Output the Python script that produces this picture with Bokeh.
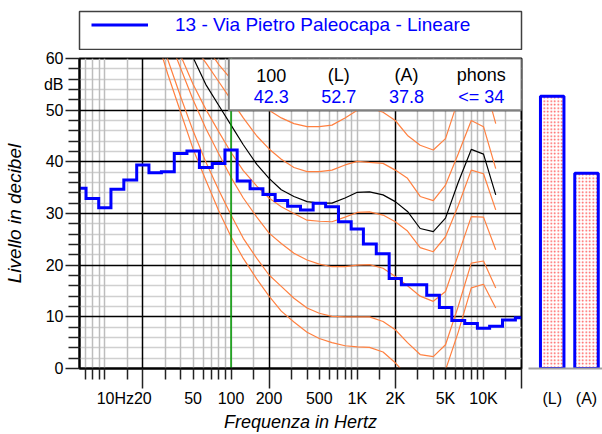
import math
from bokeh.plotting import figure
from bokeh.layouts import row, column
from bokeh.models import (Range1d, FixedTicker, Label, BoxAnnotation, Legend,
                          LegendItem, Grid, LogAxis, LinearAxis)
from bokeh.embed import file_html
from bokeh.resources import INLINE

FONT = "Liberation Sans"

# ---------------- data ----------------
series_name = "13 - Via Pietro Paleocapa - Lineare"

# 1/3-octave band centre frequencies (Hz) and measured levels (dB)
band_freqs = [6.3, 8, 10, 12.5, 16, 20, 25, 31.5, 40, 50, 63, 80, 100, 125, 160,
              200, 250, 315, 400, 500, 630, 800, 1000, 1250, 1600, 2000, 2500,
              3150, 4000, 5000, 6300, 8000, 10000, 12500, 16000, 20000]
band_levels = [34.9, 32.9, 31.1, 34.7, 36.5, 39.4, 37.9, 38.1, 41.6, 42.1, 38.9,
               39.7, 42.3, 36.3, 34.8, 33.7, 32.5, 31.4, 30.7, 32.0, 31.3, 28.4,
               27.0, 24.1, 22.2, 17.4, 16.2, 16.2, 14.2, 11.8, 9.3, 8.7, 7.8, 8.2,
               9.4, 9.8]

# equal-loudness contours (dB) at these frequencies
iso_freqs = [20, 25, 31.5, 40, 50, 63, 80, 100, 125, 160, 200, 250, 315, 400, 500,
             630, 800, 1000, 1250, 1600, 2000, 2500, 3150, 4000, 5000, 6300, 8000,
             10000, 12500]
contour_thr = [74, 65, 57, 49.5, 42.5, 36.5, 30.5, 25.5, 21.3, 17.3, 14.0, 11.1, 9.0,
               7.0, 5.8, 5.0, 4.4, 4.2, 4.1, 3.2, 1.1, -1.5, -3.5, -4.0, -0.3, 7.0,
               15.6, 16.3, 11.7]
contour_10 = [78, 68.5, 59.8, 52.5, 46, 40, 34.5, 29.7, 25.2, 21.3, 18.1, 15.9, 13.6,
              11.7, 10.7, 10.1, 10.0, 10.0, 10.0, 9.1, 7.5, 5.0, 2.7, 2.3, 4.6, 12.0,
              20.4, 20.8, 15.6]
contour_20 = [80, 71.5, 64.5, 58, 52, 46.5, 41.5, 37, 33, 29.3, 26.2, 24.2, 22.3,
              21.0, 20.2, 19.7, 19.7, 20.0, 20.1, 19.4, 17.8, 16.0, 14.0, 13.0, 14.9,
              22.0, 29.4, 29.3, 23.0]
contour_30 = [82, 73, 66, 60.5, 55, 50.2, 45.8, 41.8, 38.3, 35.3, 33.0, 31.3, 30.0,
              28.7, 28.5, 28.4, 29.3, 30.2, 30.3, 29.7, 28.4, 26.6, 23.4, 22.6, 25.5,
              31.5, 38.4, 37.7, 30.7]
contour_40 = [86, 79, 72.5, 67, 62.5, 59.2, 55.5, 52.0, 48.5, 45.0, 42.5, 40.5, 38.9,
              38.1, 38.1, 38.4, 39.4, 40.1, 39.9, 39.7, 38.4, 36.8, 33.3, 32.5, 35.5,
              41.5, 48.0, 46.8, 38.7]
contour_50 = [90, 83.5, 77.5, 72, 67.5, 62.5, 58.8, 56.0, 53.5, 51.5, 50.0, 48.5, 47.4,
              46.8, 46.8, 47.1, 48.5, 50.0, 50.5, 49.6, 48.0, 45.1, 43.2, 42.3, 44.5,
              52.0, 58.0, 56.0, 47.4]
contour_phon = [83, 77, 71, 65.5, 60.2, 55, 50.9, 47.1, 43.3, 39.5, 36.8, 34.6, 33.3,
                32.3, 32.0, 32.0, 33.0, 34.1, 34.2, 33.6, 32.3, 30.4, 27.1, 26.5, 29.1,
                36.0, 42.4, 41.5, 33.6]
phon_level = 34
highlight_freq = 100

overall_labels = ["(L)", "(A)"]
overall_values = [52.7, 37.8]

# axis ticks / labels
x_major_ticks = [20, 200, 2000, 20000]
x_minor_ticks = [7, 8, 9, 10, 15, 30, 40, 50, 60, 70, 80, 90, 100, 150,
                 300, 400, 500, 600, 700, 800, 900, 1000, 1500,
                 3000, 4000, 5000, 6000, 7000, 8000, 9000, 10000, 15000]
x_label_pos = [10, 20, 50, 100, 200, 500, 1000, 2000, 5000, 10000]
x_labels = ["10Hz", "20", "50", "100", "200", "500", "1K", "2K", "5K", "10K"]
y_major_ticks = [0, 10, 20, 30, 40, 50, 60]
y_minor_ticks = [2, 4, 6, 8, 12, 14, 16, 18, 22, 24, 26, 28, 32, 34, 36, 38,
                 42, 44, 46, 48, 52, 54, 56, 58]
y_unit_label = "dB"
y_unit_pos = 55

# ---------------- layout constants ----------------
FRAME_W, FRAME_H = 442, 311
LEFT, TOP, BOTTOM = 79, 8, 65
LEG_H = 50
XR = Range1d(6.3, 20000)
YR = Range1d(0, 60)
px_per_decade = FRAME_W / math.log10(XR.end / XR.start)

# "10Hz" is drawn with its number centred on the tick, so shift the text anchor
label_ticks = list(x_label_pos)
label_ticks[0] = x_label_pos[0] * 10 ** (10.5 / px_per_decade)

# ---------------- legend strip (its frame is the legend box) ----------------
leg_fig = figure(width=602, height=LEG_H, x_range=Range1d(0, 1), y_range=Range1d(0, 1),
                 output_backend="svg", toolbar_location=None,
                 x_axis_location=None, y_axis_location=None,
                 min_border_left=LEFT, min_border_right=602 - LEFT - FRAME_W,
                 min_border_top=11, min_border_bottom=1)
leg_fig.outline_line_color = "#404040"
leg_fig.outline_line_width = 1.5
leg_fig.xgrid.visible = False
leg_fig.ygrid.visible = False
leg_fig.background_fill_color = "white"
leg_fig.border_fill_color = "white"
leg_glyph = leg_fig.line(band_freqs[:1], band_levels[:1], line_color="#0000ff",
                         line_width=3)
legend = Legend(items=[LegendItem(label=series_name, renderers=[leg_glyph])],
                location=(12, 13), orientation="vertical",
                glyph_width=57, glyph_height=23, label_height=23, label_width=300,
                label_standoff=27, padding=0, margin=0, spacing=0,
                border_line_color=None, background_fill_alpha=0.0,
                label_text_font=FONT, label_text_font_size="19px",
                label_text_color="#0000ff")
leg_fig.add_layout(legend)

# ---------------- main figure ----------------
p1 = figure(width=LEFT + FRAME_W + 7, height=TOP + FRAME_H + BOTTOM,
            x_axis_type="log", x_range=XR, y_range=YR,
            output_backend="svg", toolbar_location=None,
            min_border_left=LEFT, min_border_right=7, min_border_top=TOP,
            min_border_bottom=BOTTOM)
p1.background_fill_color = "white"
p1.border_fill_color = "white"
p1.outline_line_color = "black"
p1.outline_line_width = 2


def style_axis(ax):
    ax.major_label_text_font = FONT
    ax.major_label_text_font_size = "16px"
    ax.major_label_text_color = "black"
    ax.axis_label_text_font = FONT
    ax.axis_label_text_font_style = "italic"
    ax.axis_label_text_color = "black"
    ax.major_tick_in = 0
    ax.minor_tick_in = 0


def tick_only_axis(ax, ticks, major_out, minor_out):
    style_axis(ax)
    ax.axis_line_color = "black"
    ax.axis_line_width = 2
    ax.major_tick_out = major_out
    ax.minor_tick_out = minor_out
    ax.major_tick_line_color = "#222222"
    ax.minor_tick_line_color = "#222222"
    ax.major_tick_line_width = 1.5
    ax.minor_tick_line_width = 1.5
    ax.major_label_overrides = {t: "" for t in ticks}
    ax.major_label_text_font_size = "1px"
    ax.major_label_standoff = 0
    ax.axis_label_standoff = 0


def label_only_axis(ax):
    style_axis(ax)
    ax.axis_line_color = None
    ax.major_tick_line_color = None
    ax.minor_tick_line_color = None
    ax.major_tick_out = 0
    ax.minor_tick_out = 0


# x axis: tick marks (long at 20/200/2K/20K) + separate label row
xa1 = p1.xaxis[0]
xa1.ticker = FixedTicker(ticks=x_major_ticks, minor_ticks=x_minor_ticks)
tick_only_axis(xa1, x_major_ticks, 20, 11)

xa2 = LogAxis(ticker=FixedTicker(ticks=label_ticks, minor_ticks=[]),
              major_label_overrides={t: l for t, l in zip(label_ticks, x_labels)},
              axis_label="Frequenza in Hertz")
label_only_axis(xa2)
xa2.major_label_standoff = 1
xa2.axis_label_standoff = 2
xa2.axis_label_text_font_size = "18px"
p1.add_layout(xa2, "below")

# y axis: tick marks + label column (with the "dB" unit)
ya1 = p1.yaxis[0]
ya1.ticker = FixedTicker(ticks=y_major_ticks, minor_ticks=y_minor_ticks)
tick_only_axis(ya1, y_major_ticks, 14, 11)

y_label_ticks = y_major_ticks + [y_unit_pos]
y_label_over = {t: str(t) for t in y_major_ticks}
y_label_over[y_unit_pos] = y_unit_label
ya2 = LinearAxis(ticker=FixedTicker(ticks=y_label_ticks, minor_ticks=[]),
                 major_label_overrides=y_label_over,
                 axis_label="Livello in decibel")
label_only_axis(ya2)
ya2.major_label_standoff = 2
ya2.axis_label_standoff = 16
ya2.axis_label_text_font_size = "19px"
p1.add_layout(ya2, "left")

# grids: minor (grey) underneath, major (black) on top
xg = p1.xgrid[0]
yg = p1.ygrid[0]
for g in (xg, yg):
    g.grid_line_color = "black"
    g.grid_line_width = 1.5
    g.minor_grid_line_color = None
gx_minor = Grid(dimension=0, ticker=FixedTicker(ticks=x_minor_ticks),
                grid_line_color="#bdbdbd", grid_line_width=1.5)
gy_minor = Grid(dimension=1, ticker=FixedTicker(ticks=y_minor_ticks),
                grid_line_color="#d0d0d0", grid_line_width=1.5)
p1.center = [gy_minor, gx_minor] + [c for c in p1.center]

# equal-loudness contours
for contour in (contour_thr, contour_10, contour_20, contour_30, contour_40, contour_50):
    p1.line(iso_freqs, contour, line_color="#ff8040", line_width=1.2)
p1.line(iso_freqs, contour_phon, line_color="black", line_width=1.2)

# highlighted band marker
p1.line([highlight_freq, highlight_freq], [YR.start, YR.end],
        line_color="#009900", line_width=1.5)

# measured spectrum
step_r = p1.step(band_freqs, band_levels, mode="center", line_color="#0000ff",
                 line_width=3, line_join="miter")

# inset results box
box = BoxAnnotation(left=96, right=XR.end, bottom=50, top=YR.end,
                    fill_color="white", fill_alpha=1.0,
                    line_color="#808080", line_alpha=1.0, line_width=2)
p1.add_layout(box)

inset_headers = [str(highlight_freq), overall_labels[0], overall_labels[1], "phons"]
inset_values = [f"{band_levels[band_freqs.index(highlight_freq)]:.1f}",
                f"{overall_values[0]:.1f}", f"{overall_values[1]:.1f}",
                f"<= {phon_level}"]
inset_x = [208, 714, 2457, 9600]
for xh, head, val in zip(inset_x, inset_headers, inset_values):
    p1.add_layout(Label(x=xh, y=56.8, text=head, text_align="center",
                        text_baseline="middle", text_font=FONT,
                        text_font_size="18px", text_color="black"))
    p1.add_layout(Label(x=xh, y=52.6, text=val, text_align="center",
                        text_baseline="middle", text_font=FONT,
                        text_font_size="18px", text_color="#0000ff"))

# ---------------- overall level bars ----------------
bar_x = list(range(1, len(overall_labels) + 1))
p2 = figure(width=74, height=TOP + FRAME_H + BOTTOM, x_range=Range1d(0.309, 2.466),
            y_range=YR, output_backend="svg", toolbar_location=None,
            y_axis_location=None, min_border_left=0, min_border_right=0,
            min_border_top=TOP, min_border_bottom=BOTTOM)
p2.outline_line_color = None
p2.background_fill_color = "white"
p2.border_fill_color = "white"
p2.xgrid.visible = False
p2.ygrid.visible = False
p2.vbar(x=bar_x, top=overall_values, bottom=0, width=0.685,
        fill_color="white", line_color="#0000ff", line_width=3,
        hatch_pattern="dot", hatch_color="red", hatch_scale=3.5, hatch_weight=1,
        hatch_alpha=0.7)
xb = p2.xaxis[0]
xb.ticker = FixedTicker(ticks=bar_x, minor_ticks=[])
xb.major_label_overrides = {t: l for t, l in zip(bar_x, overall_labels)}
style_axis(xb)
xb.major_tick_out = 0
xb.minor_tick_out = 0
xb.major_tick_line_color = None
xb.minor_tick_line_color = None
xb.axis_line_color = "#a0a0a0"
xb.axis_line_width = 2
xb.major_label_standoff = 21

layout = column(leg_fig, row(p1, p2))
open("out.html", "w").write(file_html(layout, INLINE))
